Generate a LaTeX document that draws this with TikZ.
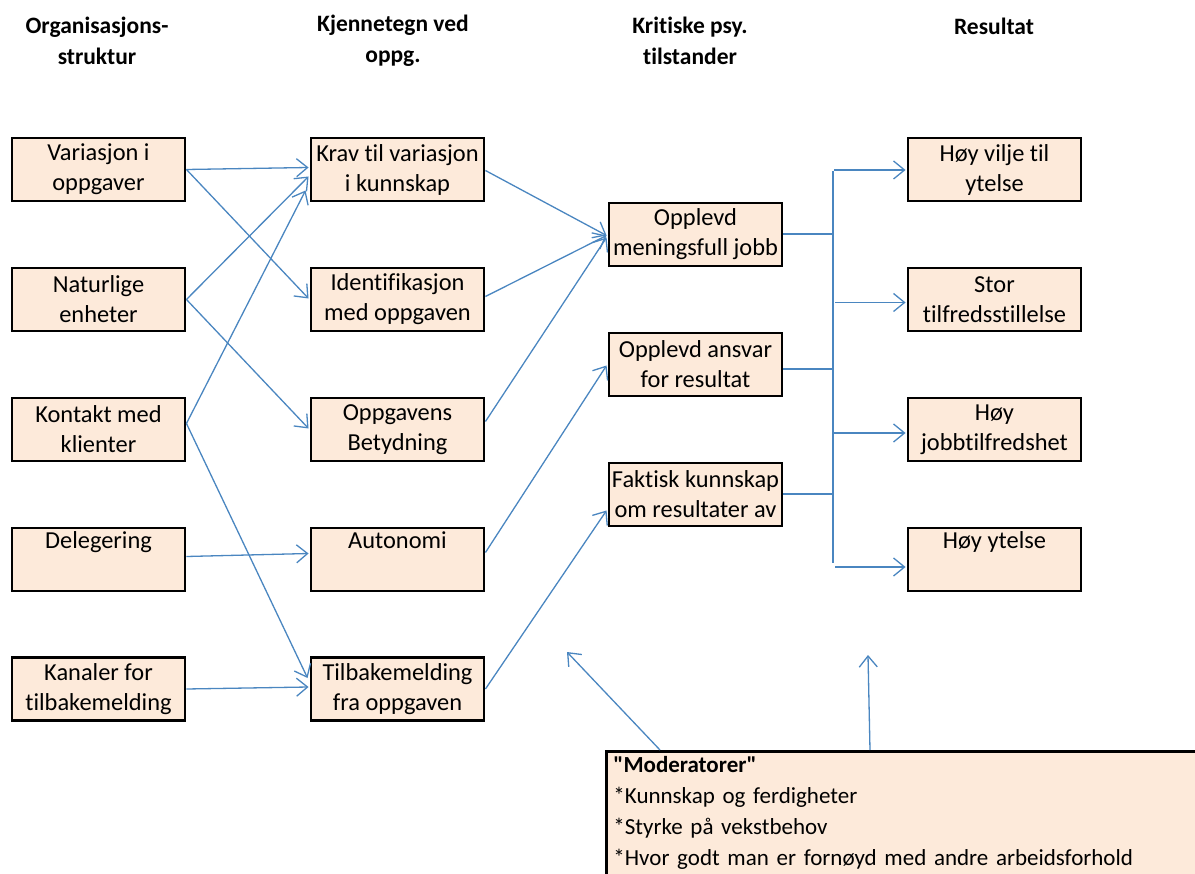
\documentclass[tikz,border=0pt]{standalone}
\usepackage{fontspec}
\setmainfont{Carlito}[Ligatures={TeXOff,CommonOff}]
\usetikzlibrary{arrows.meta,calc}
\definecolor{boxfill}{HTML}{FDEADA}
\definecolor{conn}{HTML}{4A86C0}
\tikzset{
  box/.style={draw=black,line width=2.9pt,fill=boxfill,minimum width=173pt,minimum height=63pt,
    align=center,inner sep=2pt,font=\fontsize{24.4}{30}\selectfont},
  hdr/.style={align=center,font=\bfseries\fontsize{23.5}{31}\selectfont},
  conline/.style={draw=conn,line width=1.3pt},
  arr/.style={conline,-{Straight Barb[length=11pt,width=18pt,line width=1.3pt]}},
  busline/.style={draw=conn,line width=2pt}
}
\begin{document}
\begin{tikzpicture}[x=1pt,y=-1pt]
\useasboundingbox (0,0) rectangle (1195,874);
\clip (0,0) rectangle (1195,874);
% headers
\node[hdr] (h1) at (97,41) {Organisasjons-\\struktur};
\node[hdr] (h2) at (393,41) {Kjennetegn ved\\oppg.};
\node[hdr] (h3) at (690,41) {Kritiske psy.\\tilstander};
\node[hdr] (h4) at (994,26) {Resultat};
% column 1
\node[box] (v1) at (98.5,169.5) {Variasjon i\\oppgaver};
\node[box] (n1) at (98.5,299.5) {Naturlige\\enheter};
\node[box] (kk1) at (98.5,429.5) {Kontakt med\\klienter};
\node[box] (d1) at (98.5,559.5) {Delegering\\\strut};
\node[box] (ka1) at (98.5,689) {Kanaler for\\tilbakemelding};
% column 2
\node[box] (k2) at (397.5,169.5) {Krav til variasjon\\i kunnskap};
\node[box] (i2) at (397.5,299.5) {Identifikasjon\\med oppgaven};
\node[box] (o2) at (397.5,429.5) {Oppgavens\\Betydning};
\node[box] (a2) at (397.5,559.5) {Autonomi\\\strut};
\node[box] (t2) at (397.5,689) {Tilbakemelding\\fra oppgaven};
% column 3
\node[box] (m3) at (695.5,234.5) {Opplevd\\meningsfull jobb};
\node[box] (an3) at (695.5,364.5) {Opplevd ansvar\\for resultat};
\node[box] (f3) at (695.5,494.5) {Faktisk kunnskap\\om resultater av};
% column 4
\node[box] (r1) at (994.5,169.5) {Høy vilje til\\ytelse};
\node[box] (r2) at (994.5,299.5) {Stor\\tilfredsstillelse};
\node[box] (r3) at (994.5,429.5) {Høy\\jobbtilfredshet};
\node[box] (r4) at (994.5,559.5) {Høy ytelse\\\strut};
% moderator box
\node[draw=black,line width=2.9pt,fill=boxfill,anchor=north west,align=left,text width=590pt,
  inner xsep=7pt,inner ysep=5pt,font=\fontsize{23}{31}\selectfont] (mod) at (605,750)
  {\textbf{"Moderatorer"}\\{}*Kunnskap og ferdigheter\\{}*Styrke på vekstbehov\\{}*Hvor godt man er fornøyd med andre arbeidsforhold\\\strut};
% col1 -> col2
\draw[arr] (v1.east) -- ($(k2.west)+(-1,-2)$);
\draw[arr] (v1.east) -- ($(i2.west)+(-1,-1)$);
\draw[arr] (n1.east) -- ($(k2.west)+(-1,7)$);
\draw[arr] (n1.east) -- ($(o2.west)+(-1,-1)$);
\draw[arr] ($(kk1.east)+(0,-6)$) -- ($(k2.west)+(-4,21)$);
\draw[arr] ($(kk1.east)+(0,-6)$) -- ($(t2.west)+(-2,-11)$);
\draw[arr] ($(d1.east)+(0,-3)$) -- ($(a2.west)+(-1,-6)$);
\draw[arr] (ka1.east) -- ($(t2.west)+(-1,-2)$);
% col2 -> col3
\draw[arr] ($(k2.east)+(0,1)$) -- ($(m3.west)+(-1,1)$);
\draw[arr] ($(i2.east)+(0,-3)$) -- ($(m3.west)+(-1,1)$);
\draw[arr] ($(o2.east)+(0,-8)$) -- ($(m3.west)+(-1,3)$);
\draw[arr] ($(a2.east)+(0,-7)$) -- ($(an3.west)+(-1,1)$);
\draw[arr] (t2.east) -- ($(f3.west)+(-1,16)$);
% col3 -> bus
\coordinate (bt) at (833,171);
\coordinate (bb) at (833,563);
\draw[busline] (bt) -- (bb);
\draw[busline] (m3.east) -- (m3.east -| bt);
\draw[busline] ($(an3.east)+(0,5)$) -- ($(an3.east -| bt)+(0,5)$);
\draw[busline] (f3.east) -- (f3.east -| bt);
% bus -> col4
\draw[arr] ($(r1.west -| bt)+(1,0.5)$) -- ($(r1.west)+(-1,0.5)$);
\draw[arr] ($(r2.west -| bt)+(2,3)$) -- ($(r2.west)+(-1,3)$);
\draw[arr] ($(r3.west -| bt)+(1,3.5)$) -- ($(r3.west)+(-1,3.5)$);
\draw[arr] ($(r4.west -| bt)+(2,7.5)$) -- ($(r4.west)+(-1,7.5)$);
% moderator arrows
\coordinate (mt1) at (567,652);
\coordinate (mt2) at (868,655);
\draw[arr] ($(mod.north west)+(55,0)$) -- (mt1);
\draw[arr] ($(mod.north west)+(265,0)$) -- (mt2);
\end{tikzpicture}
\end{document}
